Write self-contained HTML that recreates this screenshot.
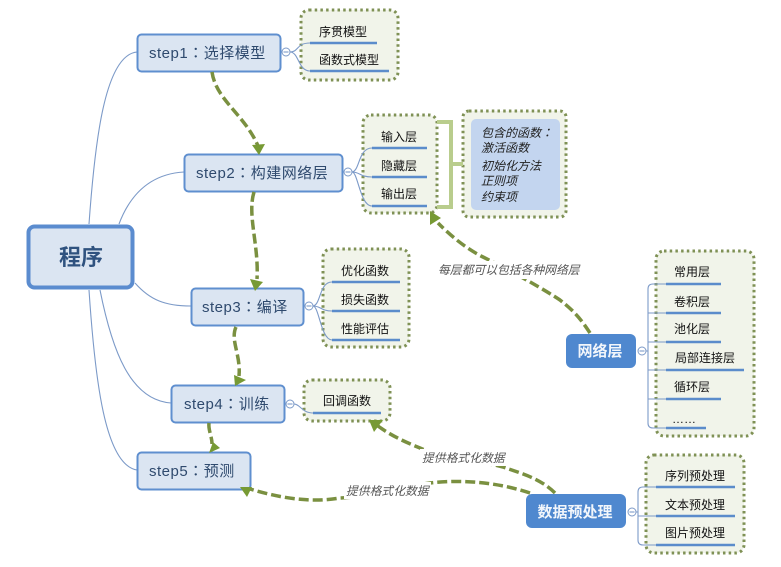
<!DOCTYPE html>
<html><head><meta charset="utf-8"><style>
html,body{margin:0;padding:0;background:#fff}
svg{display:block}
text{font-family:"Liberation Sans","Noto Sans CJK SC",sans-serif}
.k{font-family:"Noto Sans CJK TC",sans-serif}
.s{font-size:15px;fill:#2f4a6e;letter-spacing:.5px}
.l{font-size:12px;fill:#111;text-anchor:middle}
.i{font-size:12px;fill:#222;font-style:italic}
.n{font-size:11.8px;fill:#555;font-style:italic}
.c{fill:none;stroke:#7c9ac8;stroke-width:1.1}
.u{stroke:#5b8ccb;stroke-width:2.5;fill:none}
.f{fill:#f1f4ea;stroke:#7f9155;stroke-width:3;stroke-dasharray:2.5 3.2}
.b{fill:#dbe5f2;stroke:#5f8fcf;stroke-width:2}
.d{fill:none;stroke:#7a9040;stroke-width:3.5;stroke-dasharray:10 4}
.a{fill:#779a34}
.o{fill:#fff;stroke:#7c9ac8;stroke-width:1}
</style></head><body>
<svg width="781" height="567" viewBox="0 0 781 567" xmlns="http://www.w3.org/2000/svg">
<path class="c" d="M89 224C95 140 105 55 137 52"/>
<path class="c" d="M119 224C130 195 150 174 184 172"/>
<path class="c" d="M135 283C150 300 165 306 191 306"/>
<path class="c" d="M100 290C112 350 130 400 171 403"/>
<path class="c" d="M89 290C95 380 105 465 137 470"/>

<rect class="f" x="301" y="10" width="97" height="70" rx="8"/>
<rect class="f" x="363" y="115" width="74" height="98" rx="8"/>
<rect class="f" x="323" y="249" width="86" height="98" rx="8"/>
<rect class="f" x="304" y="380" width="86" height="41" rx="8"/>
<rect class="f" x="656" y="251" width="98" height="185" rx="8"/>
<rect class="f" x="646" y="455" width="98" height="98" rx="8"/>
<rect class="f" x="463" y="111" width="103" height="106" rx="6"/>
<rect x="471" y="119" width="89" height="91" rx="5" fill="#c3d5ef"/>
<path d="M437 122H451V207H437M451 164H463" fill="none" stroke="#b9cd8d" stroke-width="4"/>

<path class="c" d="M290 52C299 52 296 43 310 43M290 52C299 52 298 71 310 71"/>
<path class="c" d="M352 172C360 171 358 148 372 148M352 172C360 172 360 177 372 177M352 172C358 172 360 206 372 206"/>
<path class="c" d="M313 306C321 305 319 282 332 282M313 306C321 306 321 311 332 311M313 306C319 306 321 340 332 340"/>
<path class="c" d="M294 404C300 404 302 413 313 413"/>
<path class="c" d="M646 351H648M666 284H653Q648 284 648 289V423Q648 428 653 428H666M648 313H666M648 342H666M648 370H666M648 399H666"/>
<path class="c" d="M636 512H638M656 487H643Q638 487 638 492V540Q638 545 643 545H656M638 516H656"/>

<path class="u" d="M310 43H377M310 71H389"/>
<path class="u" d="M372 148H427M372 177H427M372 206H427"/>
<path class="u" d="M332 282H400M332 311H400M332 340H400"/>
<path class="u" d="M313 413H381"/>
<path class="u" d="M666 284H721M666 313H721M666 342H721M666 370H744M666 399H721M666 428H706"/>
<path class="u" d="M656 487H735M656 516H735M656 545H735"/>

<circle class="o" cx="286" cy="52" r="4"/><path class="c" d="M283.500 52H288.500"/>
<circle class="o" cx="348" cy="172" r="4"/><path class="c" d="M345.500 172H350.500"/>
<circle class="o" cx="309" cy="306" r="4"/><path class="c" d="M306.500 306H311.500"/>
<circle class="o" cx="290" cy="404" r="4"/><path class="c" d="M287.500 404H292.500"/>
<circle class="o" cx="642" cy="351" r="4"/><path class="c" d="M639.500 351H644.500"/>
<circle class="o" cx="632" cy="512" r="4"/><path class="c" d="M629.500 512H634.500"/>

<rect x="28.500" y="226.500" width="104" height="61" rx="6" fill="#dbe5f2" stroke="#5b8ccf" stroke-width="4"/>
<text x="81" y="265" text-anchor="middle" font-size="22" font-weight="bold" fill="#2f527f">程序</text>

<rect class="b" x="137.500" y="34.500" width="143" height="37" rx="4"/>
<rect class="b" x="184.500" y="154.500" width="158" height="37" rx="4"/>
<rect class="b" x="191.500" y="288.500" width="112" height="37" rx="4"/>
<rect class="b" x="171.500" y="385.500" width="113" height="37" rx="4"/>
<rect class="b" x="137.500" y="452.500" width="113" height="37" rx="4"/>
<text class="s" x="149" y="58">step1<tspan class="k">：</tspan>选择模型</text>
<text class="s" x="196" y="178">step2<tspan class="k">：</tspan>构建网络层</text>
<text class="s" x="202" y="312">step3<tspan class="k">：</tspan>编译</text>
<text class="s" x="184" y="409">step4<tspan class="k">：</tspan>训练</text>
<text class="s" x="149" y="476">step5<tspan class="k">：</tspan>预测</text>

<path class="d" d="M212 72C216 100 245 115 258 146"/>
<polygon class="a" points="252,145 265,144 259,155"/>
<path class="d" d="M254 192C247 215 259 245 257 279"/>
<polygon class="a" points="250,279 263,282 255,291"/>
<path class="d" d="M236 327C230 340 241 355 239 376"/>
<polygon class="a" points="234,375 246,380 235,386"/>
<path class="d" d="M209 423C208 430 212 436 212 444"/>
<polygon class="a" points="213,442 220,448 209,453"/>
<path class="d" d="M590 333C580 318 575 312 560 300C545 290 515 273 483 257C465 248 450 235 438 223"/>
<polygon class="a" points="430,211 441,218 430,225"/>
<path class="d" d="M555 493C540 478 520 473 503 467C475 460 440 457 420 448C405 442 390 435 378 426"/>
<polygon class="a" points="369,420 383,420 374,432"/>
<path class="d" d="M530 493C500 483 465 479 430 483C395 488 370 497 340 498C310 503 280 498 250 489"/>
<polygon class="a" points="240,487 252,487 247,497"/>

<rect x="436" y="261" width="146" height="18" fill="#fff"/>
<rect x="420" y="449" width="88" height="17" fill="#fff"/>
<rect x="344" y="482" width="87" height="17" fill="#fff"/>
<text class="n" x="438" y="274">每层都可以包括各种网络层</text>
<text class="n" x="422" y="462">提供格式化数据</text>
<text class="n" x="346" y="495">提供格式化数据</text>

<text class="l" x="343" y="36">序贯模型</text>
<text class="l" x="349" y="64">函数式模型</text>
<text class="l" x="399" y="141">输入层</text>
<text class="l" x="399" y="170">隐藏层</text>
<text class="l" x="399" y="198">输出层</text>
<text class="l" x="365" y="275">优化函数</text>
<text class="l" x="365" y="304">损失函数</text>
<text class="l" x="365" y="333">性能评估</text>
<text class="l" x="347" y="405">回调函数</text>
<text class="l" x="692" y="276">常用层</text>
<text class="l" x="692" y="306">卷积层</text>
<text class="l" x="692" y="333">池化层</text>
<text class="l" x="705" y="362">局部连接层</text>
<text class="l" x="692" y="391">循环层</text>
<text class="l" x="684" y="423">……</text>
<text class="l" x="695" y="480">序列预处理</text>
<text class="l" x="695" y="509">文本预处理</text>
<text class="l" x="695" y="537">图片预处理</text>

<text class="i" x="481" y="137">包含的函数<tspan class="k">：</tspan></text>
<text class="i" x="481" y="152">激活函数</text>
<text class="i" x="481" y="170">初始化方法</text>
<text class="i" x="481" y="185">正则项</text>
<text class="i" x="481" y="201">约束项</text>

<rect x="566" y="334" width="70" height="34" rx="6" fill="#4f88cf"/>
<rect x="526" y="494" width="100" height="34" rx="6" fill="#4f88cf"/>
<text x="600" y="356" text-anchor="middle" font-size="15" font-weight="bold" fill="#f2f6fb">网络层</text>
<text x="575" y="517" text-anchor="middle" font-size="15" font-weight="bold" fill="#f2f6fb">数据预处理</text>
</svg>
</body></html>
